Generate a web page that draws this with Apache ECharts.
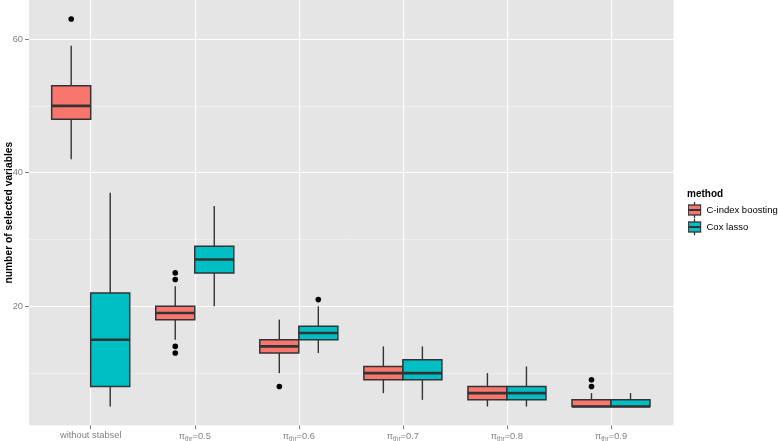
<!DOCTYPE html>
<html>
<head>
<meta charset="utf-8">
<script src="https://cdn.jsdelivr.net/npm/echarts@6/dist/echarts.min.js"></script>
<style>
html,body{margin:0;padding:0;background:#fff;}
#chart{width:778px;height:441px;}
</style>
</head>
<body>
<div id="chart"></div>
<script>
// ---- data ----
const categories = ['without stabsel', 'πthr=0.5', 'πthr=0.6', 'πthr=0.7', 'πthr=0.8', 'πthr=0.9'];
const methods = ['C-index boosting', 'Cox lasso'];
// five-number summaries per category: [lower whisker, Q1, median, Q3, upper whisker]
const cindexStats = [
  [42, 48, 50, 53, 59],
  [15, 18, 19, 20, 23],
  [10, 13, 14, 15, 18],
  [7, 9, 10, 11, 14],
  [5, 6, 7, 8, 10],
  [5, 5, 5, 6, 7]
];
const coxStats = [
  [5, 8, 15, 22, 37],
  [20, 25, 27, 29, 35],
  [13, 15, 16, 17, 20],
  [6, 9, 10, 12, 14],
  [5, 6, 7, 8, 11],
  [5, 5, 5, 6, 7]
];
const cindexOutliers = [
  ['without stabsel', 63],
  ['πthr=0.5', 25], ['πthr=0.5', 24], ['πthr=0.5', 14], ['πthr=0.5', 13],
  ['πthr=0.6', 8],
  ['πthr=0.9', 9], ['πthr=0.9', 8]
];
const coxOutliers = [
  ['πthr=0.6', 21]
];
const yMajorTicks = [20, 40, 60];
const yMinorTicks = [10, 30, 50];
const yTitle = 'number of selected variables';
const legendTitle = 'method';

// ---- styling ----
const colors = ['#F8766D', '#00BFC4'];
const FONT = 'Liberation Sans, Arial, Helvetica, sans-serif';
const yMin = 2.19, yMax = 65.84;
const dodge = 0.1875; // fraction of category spacing
const border = '#333333';

function keyIcon(c) {
  const svg = '<svg xmlns="http://www.w3.org/2000/svg" width="14" height="17" viewBox="0 0 14 17">' +
    '<line x1="7" y1="0" x2="7" y2="17" stroke="#333" stroke-width="1.3"/>' +
    '<rect x="0.75" y="3.5" width="12.5" height="10" fill="' + c + '" stroke="#333" stroke-width="1.3"/>' +
    '<line x1="0.75" y1="8.5" x2="13.25" y2="8.5" stroke="#333" stroke-width="2"/></svg>';
  return 'image://data:image/svg+xml;charset=utf-8,' + encodeURIComponent(svg);
}

function boxSeries(name, stats, side, color) {
  return {
    type: 'custom',
    name: name,
    xAxisIndex: 1,
    yAxisIndex: 2,
    clip: false,
    data: stats.map((s, i) => [i].concat(s)),
    renderItem: function (params, api) {
      const ci = api.value(0);
      const band = api.size([1, 0])[0];
      const half = band * dodge;
      const cx = api.coord([ci, 0])[0] + side * half;
      const y = k => api.coord([ci, api.value(k)])[1];
      const yLo = y(1), yQ1 = y(2), yMed = y(3), yQ3 = y(4), yHi = y(5);
      return {
        type: 'group',
        children: [
          { type: 'line', shape: { x1: cx, y1: yHi, x2: cx, y2: yQ3 }, style: { stroke: border, lineWidth: 1.4 } },
          { type: 'line', shape: { x1: cx, y1: yQ1, x2: cx, y2: yLo }, style: { stroke: border, lineWidth: 1.4 } },
          { type: 'rect', shape: { x: cx - half, y: yQ3, width: 2 * half, height: yQ1 - yQ3 },
            style: { fill: color, stroke: border, lineWidth: 1.5 } },
          { type: 'line', shape: { x1: cx - half, y1: yMed, x2: cx + half, y2: yMed }, style: { stroke: border, lineWidth: 2.6 } }
        ]
      };
    }
  };
}

function outlierSeries(name, pts, side) {
  return {
    type: 'scatter',
    name: name,
    xAxisIndex: 1,
    yAxisIndex: 2,
    clip: false,
    data: pts,
    symbol: 'circle',
    symbolSize: 5.6,
    symbolOffset: [side * 19.5, 0],
    itemStyle: { color: '#000', opacity: 1 },
    silent: true
  };
}

const chart = echarts.init(document.getElementById('chart'), null, { renderer: 'canvas' });
const axisGrey = '#7F7F7F';
const option = {
  animation: false,
  backgroundColor: '#ffffff',
  textStyle: { fontFamily: FONT },
  title: {
    text: legendTitle,
    left: 687,
    top: 189,
    padding: 0,
    textStyle: { fontSize: 10, fontWeight: 'bold', color: '#000', fontFamily: FONT }
  },
  legend: {
    orient: 'vertical',
    left: 687.5,
    top: 201.5,
    padding: 0,
    itemWidth: 14,
    itemHeight: 17,
    itemGap: 0,
    selectedMode: false,
    textStyle: { fontSize: 9.5, color: '#000', fontFamily: FONT },
    data: [
      { name: methods[0], icon: keyIcon(colors[0]) },
      { name: methods[1], icon: keyIcon(colors[1]) }
    ]
  },
  grid: [
    { left: 29, width: 644.6, top: 0, height: 425.3, show: true, backgroundColor: '#E5E5E5', borderWidth: 0,
      containLabel: false, outerBoundsMode: 'none' },
    { left: 90.7, width: 520.3, top: 0, height: 425.3, show: false, containLabel: false, outerBoundsMode: 'none' }
  ],
  xAxis: [
    { gridIndex: 0, type: 'category', data: categories, show: false },
    {
      gridIndex: 1, type: 'category', data: categories, boundaryGap: false,
      axisLine: { show: false },
      axisTick: { show: true, length: 4, lineStyle: { color: axisGrey, width: 1 } },
      splitLine: { show: true, lineStyle: { color: '#FFFFFF', width: 1.2 } },
      axisLabel: {
        margin: 6,
        interval: 0,
        formatter: function (v) {
          if (v.indexOf('πthr') === 0) return '{p|π}{s|thr}{n|' + v.slice(4) + '}';
          return '{n|' + v + '}';
        },
        rich: {
          p: { fontSize: 9, color: axisGrey, fontFamily: FONT },
          s: { fontSize: 6.5, color: axisGrey, fontFamily: FONT, padding: [4, 0, 0, 0] },
          n: { fontSize: 9.3, color: axisGrey, fontFamily: FONT }
        }
      }
    }
  ],
  yAxis: [
    {
      gridIndex: 0, type: 'value', min: yMin, max: yMax,
      name: yTitle, nameLocation: 'middle', nameRotate: 90, nameGap: 15, nameMoveOverlap: false,
      nameTextStyle: { fontSize: 10.3, fontWeight: 'bold', color: '#000', fontFamily: FONT },
      axisLine: { show: false },
      axisTick: { show: true, length: 4, lineStyle: { color: axisGrey }, customValues: yMajorTicks },
      axisLabel: { color: axisGrey, fontSize: 9.3, margin: 6, customValues: yMajorTicks, fontFamily: FONT },
      splitLine: { show: true, lineStyle: { color: '#FFFFFF', width: 1.2 } }
    },
    {
      gridIndex: 0, type: 'value', min: yMin, max: yMax,
      axisLine: { show: false },
      axisTick: { show: false, customValues: yMinorTicks },
      axisLabel: { show: false, customValues: yMinorTicks },
      splitLine: { show: true, lineStyle: { color: '#F2F2F2', width: 0.7 } }
    },
    { gridIndex: 1, type: 'value', min: yMin, max: yMax, show: false, splitLine: { show: false } }
  ],
  series: [
    boxSeries(methods[0], cindexStats, -1, colors[0]),
    boxSeries(methods[1], coxStats, 1, colors[1]),
    outlierSeries(methods[0], cindexOutliers, -1),
    outlierSeries(methods[1], coxOutliers, 1)
  ]
};
chart.setOption(option);
</script>
</body>
</html>
